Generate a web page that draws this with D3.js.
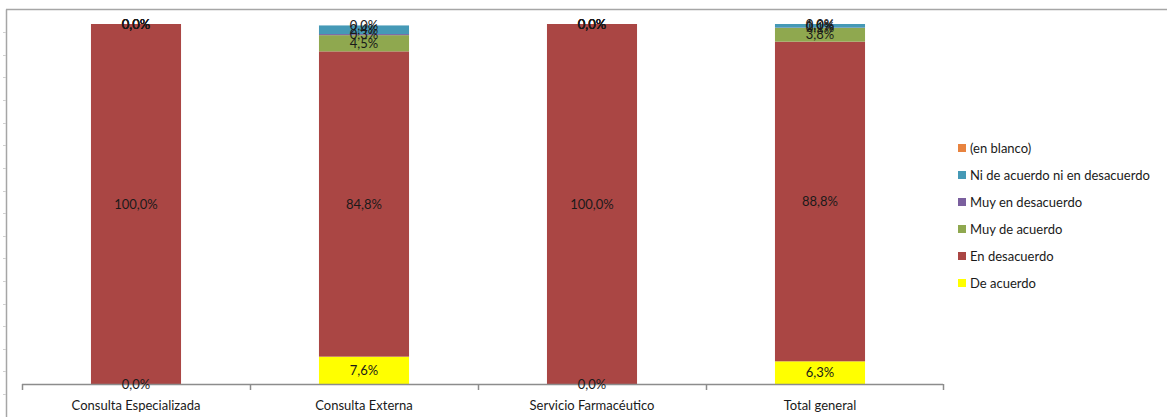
<!DOCTYPE html>
<html><head><meta charset="utf-8">
<script src="https://cdn.jsdelivr.net/npm/d3@7"></script>
<style>body{margin:0;background:#fff}svg{display:block;font-family:Lato,"Open Sans",sans-serif}</style>
</head><body>
<svg id="c" width="1167" height="417"></svg>
<script>
const categories = ["Consulta Especializada","Consulta Externa","Servicio Farmacéutico","Total general"];
const seriesNames = ["De acuerdo","En desacuerdo","Muy de acuerdo","Muy en desacuerdo","Ni de acuerdo ni en desacuerdo","(en blanco)"];
const deAcuerdo        = [0.0, 7.6, 0.0, 6.3];
const enDesacuerdo     = [100.0, 84.8, 100.0, 88.8];
const muyDeAcuerdo     = [0.0, 4.5, 0.0, 3.8];
const muyEnDesacuerdo  = [0.0, 0.3, 0.0, 0.1];
const niNi             = [0.0, 2.4, 0.0, 1.0];
const enBlanco         = [0.0, 0.0, 0.0, 0.0];
const seriesColors = ["#FFFF00","#AA4644","#8FA84F","#7A5F9E","#4599B6","#E8833F"];

const seriesValues = [deAcuerdo, enDesacuerdo, muyDeAcuerdo, muyEnDesacuerdo, niNi, enBlanco];
const rows = categories.map((c,i)=>{const r={cat:c};seriesNames.forEach((s,j)=>r[s]=seriesValues[j][i]);return r;});
const stack = d3.stack().keys(seriesNames)(rows);

const svg = d3.select("#c");
const x = d3.scaleBand().domain(categories).range([22,934]).paddingInner(0.605).paddingOuter(0.3025);
const step = x.step();
const y = d3.scaleLinear().domain([0,100]).range([384,24]);
const color = d3.scaleOrdinal().domain(seriesNames).range(seriesColors);
const fmt = v => d3.format(".1f")(v).replace(".",",")+"%";

// outer frame (left + top)
svg.append("line").attr("x1",6.5).attr("x2",6.5).attr("y1",9.5).attr("y2",417).attr("stroke","#a6a6a6").attr("stroke-width",1.5);
svg.append("line").attr("x1",6).attr("x2",1167).attr("y1",9.5).attr("y2",9.5).attr("stroke","#a6a6a6").attr("stroke-width",1.5);
const frameY = d3.scaleLinear().domain([0,18]).range([9.7,416.5]);
svg.append("g").selectAll("line").data(d3.range(1,19)).join("line")
  .attr("x1",3).attr("x2",6).attr("y1",d=>Math.round(frameY(d))+0.5).attr("y2",d=>Math.round(frameY(d))+0.5)
  .attr("stroke","#d0d0d0");

// bars
const g = svg.append("g");
stack.forEach(layer=>{
  g.append("g").attr("fill",color(layer.key)).selectAll("rect").data(layer).join("rect")
    .attr("x",d=>x(d.data.cat)).attr("width",x.bandwidth())
    .attr("y",d=>y(d[1])).attr("height",d=>y(d[0])-y(d[1]));
});

// x axis
const xAxisG = svg.append("g").attr("transform","translate(0,384)");
xAxisG.append("line").attr("x1",22).attr("x2",943).attr("y1",0.5).attr("y2",0.5).attr("stroke","#8c8c8c").attr("stroke-width",1.5);
const tickXs = categories.map(c=>x(c)-(step-x.bandwidth())/2).concat([943]);
xAxisG.selectAll("line.t").data(tickXs).join("line").attr("class","t")
  .attr("x1",d=>Math.round(d)+0.5).attr("x2",d=>Math.round(d)+0.5).attr("y1",0).attr("y2",6).attr("stroke","#8c8c8c").attr("stroke-width",1.5);
xAxisG.selectAll("text").data(categories).join("text")
  .attr("x",d=>x(d)+x.bandwidth()/2).attr("y",26).attr("text-anchor","middle")
  .attr("font-size",13).attr("fill","#1a1a1a").text(d=>d);

// value labels
const lg = svg.append("g").attr("font-size",13).attr("fill","#1a1a1a").attr("text-anchor","middle");
stack.forEach(layer=>{
  lg.selectAll(null).data(layer).join("text")
    .attr("x",d=>x(d.data.cat)+x.bandwidth()/2)
    .attr("y",d=>(y(d[0])+y(d[1]))/2)
    .attr("dy","0.35em")
    .text(d=>fmt(d[1]-d[0]));
});

// legend
const legendOrder = seriesNames.slice().reverse();
const leg = svg.append("g");
legendOrder.forEach((s,i)=>{
  const yy = 148 + i*27;
  leg.append("rect").attr("x",958).attr("y",yy-4).attr("width",8).attr("height",8).attr("fill",color(s));
  leg.append("text").attr("x",970).attr("y",yy).attr("dy","0.35em").attr("font-size",13).attr("fill","#1a1a1a").text(s);
});
</script>
</body></html>
